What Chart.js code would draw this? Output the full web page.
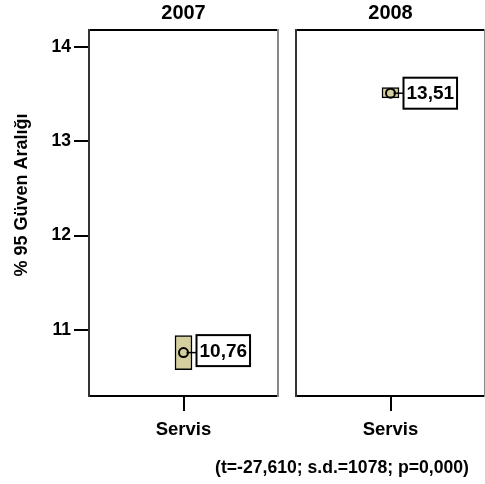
<!DOCTYPE html>
<html>
<head>
<meta charset="utf-8">
<script src="https://cdn.jsdelivr.net/npm/chart.js@4"></script>
<style>
  html, body { margin: 0; padding: 0; background: #fff; overflow: hidden; }
  body { width: 485px; height: 484px; position: relative; font-family: "Liberation Sans", Arial, sans-serif; }
  .panel { position: absolute; top: 0; height: 484px; }
  #footer { position: absolute; left: 200px; width: 284px; top: 457px; text-align: center;
            font: bold 17.6px "Liberation Sans", Arial, sans-serif; color: #000; white-space: nowrap; }
</style>
</head>
<body>
<div class="panel" style="left:0;width:290px"><canvas id="c2007"></canvas></div>
<div class="panel" style="left:286px;width:210px"><canvas id="c2008"></canvas></div>
<div id="footer"></div>

<script>
// Panels and category
const years = ['2007', '2008'];
const categories = ['Servis'];
// Mean and 95% confidence interval per year
const means = [10.76, 13.51];
const lowerCI = [10.58, 13.46];
const upperCI = [10.94, 13.57];
// Axis
const yTicks = [11, 12, 13, 14];
const yMin = 10.3;
const yMax = 14.18;
const yTitle = '% 95 Güven Aralığı';
const footnote = '(t=-27,610; s.d.=1078; p=0,000)';

document.getElementById('footer').textContent = footnote;

const FONT = '"Liberation Sans", Arial, sans-serif';
const BOX_FILL = '#d5cf9f';

// Frame around the plot area, the mean-to-label connector and the value box
const panelPlugin = {
  id: 'panelDecor',
  afterDatasetsDraw(chart, args, opts) {
    const { ctx, chartArea: a, scales } = chart;
    ctx.save();
    // frame
    ctx.lineWidth = 2;
    ctx.strokeStyle = '#000';
    ctx.beginPath();
    ctx.moveTo(a.left, a.top); ctx.lineTo(a.right, a.top);
    ctx.moveTo(a.left, a.bottom); ctx.lineTo(a.right, a.bottom);
    ctx.stroke();
    ctx.strokeStyle = '#333';
    ctx.beginPath();
    ctx.moveTo(a.left, a.top - 1); ctx.lineTo(a.left, a.bottom + 1);
    ctx.stroke();
    ctx.strokeStyle = '#888';
    ctx.beginPath();
    ctx.moveTo(a.right, a.top - 1); ctx.lineTo(a.right, a.bottom + 1);
    ctx.stroke();

    // value label for the mean
    const i = opts.index;
    const x = scales.x.getPixelForValue(0);
    const y = scales.y.getPixelForValue(means[i]);
    const label = means[i].toFixed(2).replace('.', ',');
    ctx.font = 'bold 19px ' + FONT;
    const w = ctx.measureText(label).width + 6;
    const h = 31;
    const bx = x + 13;
    const by = y - h / 2 - (i === 0 ? 2 : 0);
    ctx.lineWidth = 1.5;
    ctx.strokeStyle = '#000';
    ctx.beginPath();
    ctx.moveTo(x + 3, y); ctx.lineTo(bx, y);
    ctx.stroke();
    ctx.fillStyle = '#fff';
    ctx.fillRect(bx, by, w, h);
    ctx.lineWidth = 2;
    ctx.strokeRect(bx, by, w, h);
    ctx.fillStyle = '#000';
    ctx.textAlign = 'center';
    ctx.textBaseline = 'middle';
    ctx.fillText(label, bx + w / 2, by + h / 2 + 1);

    // rotated axis title (first panel only)
    if (opts.showYTitle) {
      ctx.save();
      ctx.font = 'bold 18px ' + FONT;
      ctx.translate(22, 195);
      ctx.rotate(-Math.PI / 2);
      ctx.textAlign = 'center';
      ctx.textBaseline = 'middle';
      ctx.fillText(yTitle, 0, 0);
      ctx.restore();
    }
    ctx.restore();
  }
};

function makePanel(canvasId, i, withYAxis, pad) {
  return new Chart(document.getElementById(canvasId), {
    type: 'bar',
    data: {
      labels: categories,
      datasets: [
        {
          type: 'bar',
          data: [[lowerCI[i], upperCI[i]]],
          backgroundColor: BOX_FILL,
          borderColor: '#000',
          borderWidth: 1.5,
          borderSkipped: false,
          barThickness: 17,
          order: 2
        },
        {
          type: 'line',
          data: [means[i]],
          showLine: false,
          pointStyle: 'circle',
          pointRadius: 4.5,
          pointBorderWidth: 2,
          pointBorderColor: '#000',
          pointBackgroundColor: 'rgba(0,0,0,0)',
          order: 1
        }
      ]
    },
    options: {
      responsive: true,
      maintainAspectRatio: false,
      animation: false,
      events: [],
      layout: { padding: pad },
      plugins: {
        legend: { display: false },
        tooltip: { enabled: false },
        title: {
          display: true,
          text: years[i],
          fullSize: false,
          color: '#000',
          font: { family: FONT, size: 20, weight: 'bold' },
          padding: { top: 1, bottom: 5 }
        },
        panelDecor: { index: i, showYTitle: withYAxis }
      },
      scales: {
        x: {
          offset: true,
          border: { display: false },
          grid: { display: true, offset: false, drawOnChartArea: false, drawTicks: true, tickLength: 15, color: '#000', lineWidth: 2 },
          ticks: { color: '#000', padding: 8, font: { family: FONT, size: 18.5, weight: 'bold' } },
          afterFit(s) { s.height = 88; }
        },
        y: {
          display: withYAxis,
          min: yMin,
          max: yMax,
          border: { display: false },
          grid: { display: true, drawOnChartArea: false, drawTicks: true, tickLength: 15, color: '#000', lineWidth: 2 },
          ticks: { color: '#000', padding: 3, font: { family: FONT, size: 17.5, weight: 'bold' } },
          afterBuildTicks(s) { s.ticks = yTicks.map(v => ({ value: v })); },
          afterFit(s) { if (withYAxis) s.width = 89; }
        }
      }
    },
    plugins: [panelPlugin]
  });
}

makePanel('c2007', 0, true, { left: 0, right: 12, top: 0, bottom: 0 });
makePanel('c2008', 1, false, { left: 10, right: 11, top: 0, bottom: 0 });
</script>
</body>
</html>
